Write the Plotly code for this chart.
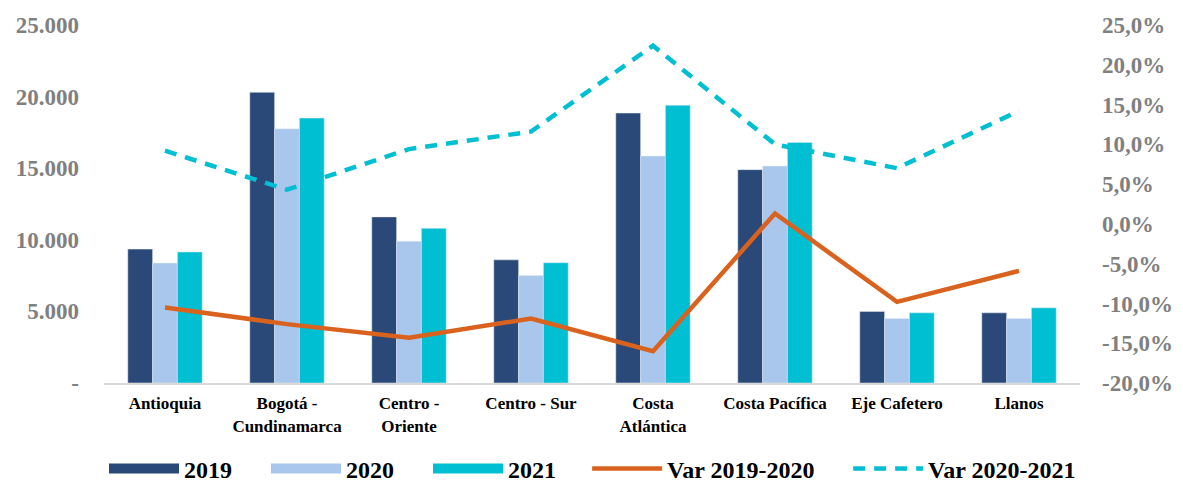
import plotly.graph_objects as go

regions = ["Antioquia", "Bogotá -<br>Cundinamarca", "Centro -<br>Oriente", "Centro - Sur",
           "Costa<br>Atlántica", "Costa Pacífica", "Eje Cafetero", "Llanos"]
v2019 = [9350, 20300, 11600, 8600, 18850, 14900, 5000, 4900]
v2020 = [8380, 17750, 9900, 7500, 15850, 15150, 4500, 4500]
v2021 = [9150, 18500, 10800, 8400, 19400, 16800, 4900, 5250]
var_19_20 = [-10.5, -12.6, -14.3, -11.9, -16.0, 1.3, -9.8, -5.9]
var_20_21 = [9.2, 4.3, 9.4, 11.6, 22.4, 10.0, 7.0, 14.2]

left_ticks = [0, 5000, 10000, 15000, 20000, 25000]
left_text = ["-", "5.000", "10.000", "15.000", "20.000", "25.000"]
right_ticks = [-20, -15, -10, -5, 0, 5, 10, 15, 20, 25]

FONT = "Liberation Serif"
bar_colors = {"2019": "#2A4878", "2020": "#A9C6EC", "2021": "#00BFD3"}

fig = go.Figure()
for year, vals in [("2019", v2019), ("2020", v2020), ("2021", v2021)]:
    fig.add_bar(x=regions, y=vals, name=year, marker_color=bar_colors[year],
                legendgroup=year, showlegend=False)
# legend-only entries so the swatches are wide boxes like the original
for year in ["2019", "2020", "2021"]:
    fig.add_scatter(x=[None], y=[None], mode="lines", name=f"<b>{year}</b>",
                    line=dict(color=bar_colors[year], width=17),
                    legendgroup=year, legend="legend")
fig.add_scatter(x=regions, y=var_19_20, name="<b>Var 2019-2020</b>", mode="lines",
                line=dict(color="#D9631E", width=4.5), yaxis="y2", legend="legend2")
fig.add_scatter(x=regions, y=var_20_21, name="<b>Var 2020-2021</b>", mode="lines",
                line=dict(color="#00BFD3", width=4.5, dash="12px,9px"), yaxis="y2", legend="legend2")

# page body has an 8px default margin, so the figure is 8px smaller and shifted
fig.update_layout(
    width=1175, height=481,
    margin=dict(l=96, r=103, t=17, b=106, autoexpand=False),
    plot_bgcolor="white", paper_bgcolor="white",
    font=dict(family=FONT, color="black"),
    barmode="group", bargap=0.39, bargroupgap=0,
    xaxis=dict(showline=True, linecolor="#D9D9D9", linewidth=2, showgrid=False,
               tickfont=dict(size=17, color="black", family=FONT), ticks="",
               tickvals=regions, ticktext=[f"<b>{r}</b>" for r in regions],
               ticklabelstandoff=4),
    yaxis=dict(range=[0, 25000], tickvals=left_ticks, ticktext=[f"<b>{t}</b>" for t in left_text],
               showgrid=False, zeroline=False,
               tickfont=dict(size=23, color="#808080", family=FONT), ticklabelstandoff=24),
    yaxis2=dict(range=[-20, 25], tickvals=right_ticks,
                ticktext=[f"<b>{t:.1f}%</b>".replace(".", ",") for t in right_ticks],
                overlaying="y", side="right", showgrid=False, zeroline=False,
                tickfont=dict(size=23, color="#808080", family=FONT), ticklabelstandoff=21),
    legend=dict(orientation="h", x=0.0, y=-0.24, xanchor="left", yanchor="middle",
                entrywidth=77, itemwidth=70, font=dict(size=24, color="black", family=FONT)),
    legend2=dict(orientation="h", x=0.495, y=-0.24, xanchor="left", yanchor="middle",
                 entrywidth=176, itemwidth=70, font=dict(size=24, color="black", family=FONT)),
)

fig.write_html("out.html")
